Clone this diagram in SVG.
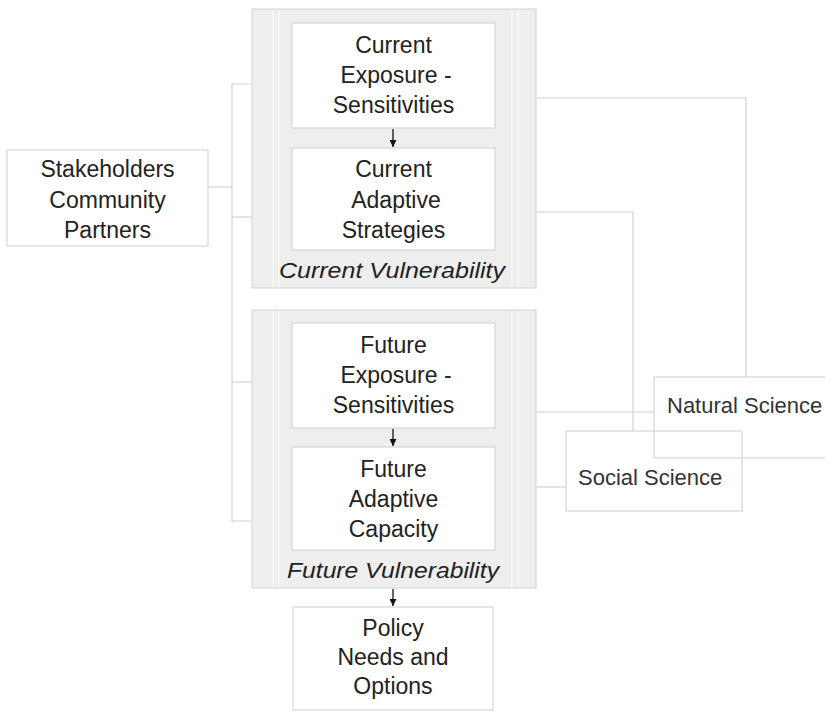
<svg xmlns="http://www.w3.org/2000/svg" width="825" height="712" viewBox="0 0 825 712">
<style>
.t{font-family:"Liberation Sans",Arial,sans-serif;font-size:23px;fill:#222;text-anchor:middle}
.s{font-family:"Liberation Sans",Arial,sans-serif;font-size:22px;fill:#333}
.it{font-family:"Liberation Sans",Arial,sans-serif;font-size:22px;font-style:italic;fill:#222}
.outer{fill:#eeeeee;stroke:#d9d9d9;stroke-width:1.2}
.box{fill:#ffffff;stroke:#d6d6d6;stroke-width:1.2}
.open{fill:none;stroke:#d6d6dc;stroke-width:1.2}
.c{fill:none;stroke:#d2d2d2;stroke-width:1.2}
.a{stroke:#111;stroke-width:1.3;fill:none}
.stripe{stroke:#f8f8f2;stroke-width:1.5}
</style>
<defs>
<marker id="ah" viewBox="0 0 10 10" refX="10" refY="5" markerWidth="7" markerHeight="7" markerUnits="userSpaceOnUse" orient="auto">
<path d="M0,0 L10,5 L0,10 z" fill="#111"/>
</marker>
</defs>
<rect width="825" height="712" fill="#ffffff"/>

<g id="connectors">
<path class="c" d="M208,187 H232"/>
<path class="c" d="M252,84 H232 V521 H252"/>
<path class="c" d="M232,217 H252"/>
<path class="c" d="M232,382 H252"/>
<path class="c" d="M495,98 H746 V377"/>
<path class="c" d="M495,212 H633 V431"/>
<path class="c" d="M536,412 H654"/>
<path class="c" d="M536,487 H566"/>
</g>

<g id="current-vulnerability">
<rect class="outer" x="252" y="9" width="284" height="279"/>
<line class="stripe" x1="273" y1="10" x2="273" y2="287"/>
<line class="stripe" x1="279" y1="10" x2="279" y2="287"/>
<line class="stripe" x1="512" y1="10" x2="512" y2="287"/>
<line class="stripe" x1="518" y1="10" x2="518" y2="287"/>
<text class="it" x="279" y="278" textLength="226" lengthAdjust="spacingAndGlyphs">Current Vulnerability</text>
</g>

<g id="current-exposure">
<rect class="box" x="292" y="23" width="203" height="105"/>
<text class="t" x="393.5" y="53">Current</text>
<text class="t" x="396" y="83">Exposure -</text>
<text class="t" x="393.5" y="113">Sensitivities</text>
</g>

<g id="current-adaptive">
<rect class="box" x="292" y="148" width="203" height="102"/>
<text class="t" x="393.5" y="177">Current</text>
<text class="t" x="396" y="208">Adaptive</text>
<text class="t" x="393.5" y="238">Strategies</text>
</g>

<g id="future-vulnerability">
<rect class="outer" x="252" y="310" width="284" height="278"/>
<line class="stripe" x1="273" y1="311" x2="273" y2="587"/>
<line class="stripe" x1="279" y1="311" x2="279" y2="587"/>
<line class="stripe" x1="512" y1="311" x2="512" y2="587"/>
<line class="stripe" x1="518" y1="311" x2="518" y2="587"/>
<text class="it" x="287" y="578" textLength="212" lengthAdjust="spacingAndGlyphs">Future Vulnerability</text>
</g>

<g id="future-exposure">
<rect class="box" x="292" y="323" width="203" height="105"/>
<text class="t" x="393.5" y="353">Future</text>
<text class="t" x="396" y="383">Exposure -</text>
<text class="t" x="393.5" y="413">Sensitivities</text>
</g>

<g id="future-adaptive">
<rect class="box" x="292" y="447" width="203" height="103"/>
<text class="t" x="393.5" y="477">Future</text>
<text class="t" x="393.5" y="507">Adaptive</text>
<text class="t" x="393.5" y="537">Capacity</text>
</g>

<g id="arrows">
<line class="a" x1="393" y1="129" x2="393" y2="147" marker-end="url(#ah)"/>
<line class="a" x1="393" y1="429" x2="393" y2="446" marker-end="url(#ah)"/>
<line class="a" x1="393" y1="589" x2="393" y2="606" marker-end="url(#ah)"/>
</g>

<g id="policy">
<rect class="box" x="293" y="607" width="200" height="103"/>
<text class="t" x="393" y="636">Policy</text>
<text class="t" x="393" y="665">Needs and</text>
<text class="t" x="393" y="694">Options</text>
</g>

<g id="stakeholders">
<rect class="box" x="7" y="150" width="201" height="96"/>
<text class="t" x="107.5" y="177">Stakeholders</text>
<text class="t" x="107.5" y="208">Community</text>
<text class="t" x="107.5" y="238">Partners</text>
</g>

<g id="natural-science">
<rect class="open" x="654" y="377" width="180" height="81"/>
<text class="s" x="667" y="413">Natural Science</text>
</g>

<g id="social-science">
<rect class="open" x="566" y="431" width="176" height="80"/>
<text class="s" x="578" y="485">Social Science</text>
</g>
</svg>
